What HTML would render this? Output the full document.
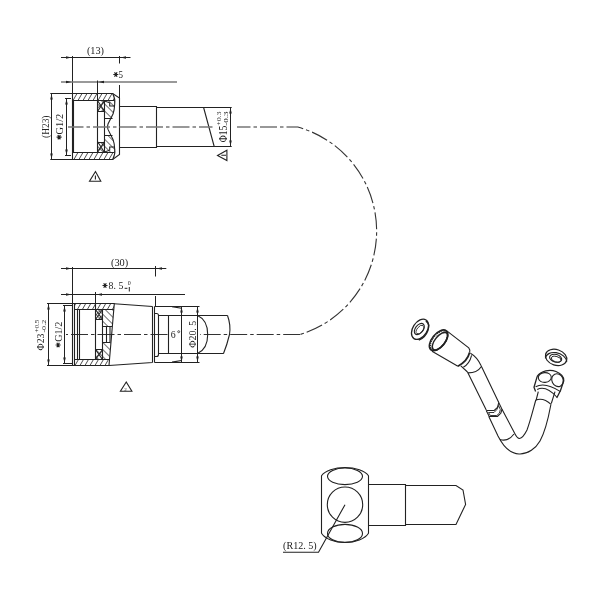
<!DOCTYPE html>
<html><head><meta charset="utf-8"><style>
html,body{margin:0;padding:0;background:#fff;}
svg{display:block;filter:grayscale(1);}
.o{fill:none;stroke:#222;stroke-width:1.1;}
.d{fill:none;stroke:#222;stroke-width:1;}
.g{fill:none;stroke:#777;stroke-width:1.3;}
.c{fill:none;stroke:#333;stroke-width:1.1;stroke-dasharray:17 3 3.5 3;}
.h{fill:none;stroke:#333;stroke-width:0.9;}
text{font-family:"Liberation Serif",serif;fill:#222;}
.ar{fill:#222;stroke:none;}
</style></head><body>
<svg width="600" height="600" viewBox="0 0 600 600">
<defs>
<pattern id="hatch" patternUnits="userSpaceOnUse" width="5" height="10" patternTransform="translate(0.5,0) skewX(-30)">
<line x1="0" y1="-1" x2="0" y2="11" stroke="#111" stroke-width="1.5"/>
</pattern>
<pattern id="hatch2" patternUnits="userSpaceOnUse" width="5" height="5" patternTransform="rotate(-45)">
<line x1="0" y1="0" x2="0" y2="5" stroke="#111" stroke-width="1.2"/>
</pattern>
<pattern id="hatch3" patternUnits="userSpaceOnUse" width="5" height="5" patternTransform="rotate(45)">
<line x1="0" y1="0" x2="0" y2="5" stroke="#111" stroke-width="1.2"/>
</pattern>
<g id="ast" stroke="#222" stroke-width="1.2" fill="#222"><path d="M-2.5,0H2.5 M-1.25,-2.2L1.25,2.2 M-1.25,2.2L1.25,-2.2"/><circle r="1.1" stroke="none"/></g>
</defs>
<rect width="600" height="600" fill="#fff"/>

<!-- ============ UPPER FITTING ============ -->
<g id="upper">
<!-- dimension (13) -->
<path class="d" d="M61,57.5H130.5 M72.5,56V94 M119.5,56V63.5 M119.5,85V99"/>
<path class="ar" d="M71.5,57.5l-5.5,-1.3v2.6z M120.5,57.5l5.5,-1.3v2.6z"/>
<text x="86.9" y="53.8" font-size="10.5" textLength="17.1" lengthAdjust="spacingAndGlyphs">(13)</text>
<!-- *5 -->
<path class="g" d="M61,82H177"/>
<path class="d" d="M97.5,80.5V100"/>
<path class="ar" d="M71.5,82l-5.5,-1.3v2.6z M98.5,82l5.5,-1.3v2.6z"/>
<use href="#ast" x="115.8" y="74.5"/><text x="118.6" y="78.1" font-size="10.8" textLength="4.5" lengthAdjust="spacingAndGlyphs">5</text>
<!-- H23 -->
<path class="d" d="M50.3,93.5H72.5 M50.3,159.5H72.5 M51.5,93.5V159.5"/>
<path class="ar" d="M51.5,94l-1.3,5.5h2.6z M51.5,159l-1.3,-5.5h2.6z"/>
<text transform="translate(48.6,138) rotate(-90)" font-size="9.5" textLength="22.5" lengthAdjust="spacingAndGlyphs">(H23)</text>
<!-- G1/2 -->
<path class="d" d="M65,98.5H71 M65,155.5H71 M66.5,98.5V155.5"/>
<path class="ar" d="M66.5,99l-1.3,5.5h2.6z M66.5,155l-1.3,-5.5h2.6z"/>
<use href="#ast" x="59.1" y="137.2"/><text transform="translate(62.7,134.5) rotate(-90)" font-size="10.5" textLength="20.7" lengthAdjust="spacingAndGlyphs">G1/2</text>

<!-- nut hatched sections -->
<path fill="url(#hatch)" d="M73,93.5H112.7Q113.8,96.5 114.4,100.5H73Z M73,152.5H114.4Q113.8,156.5 112.7,159.5H73Z"/>
<path fill="url(#hatch2)" d="M97.5,100.5H114.4Q115,104 114.7,106Q114.3,112 112.5,118.5H104.5V111.5H97.5Z M97.5,152.5H114.4Q115,149 114.7,147Q114.3,141 112.5,135.5H104.5V142.5H97.5Z"/>
<path fill="url(#hatch3)" d="M97.5,100.5H104.5V111.5H97.5Z M97.5,142.5H104.5V152.5H97.5Z"/>
<!-- nut outline -->
<path class="o" d="M72.5,93.5H112.7L119.5,98V154.5L112.7,159.5H72.5Z" stroke-width="1.1"/>
<path class="o" d="M73.5,100.5V152.5 M73,100.5H114.4 M73,152.5H114.4 M97.5,100.5V152.5 M104.5,100.5V152.5 M97.5,111.5H104.5 M97.5,142.5H104.5 M104.5,118.5H112.5 M104.5,135.5H112.5"/>
<path class="o" d="M112.7,93.5Q115.5,99 114.7,104Q114.5,110 113,114L108,124Q107,126.7 108,129.4L113,139.4Q114.5,143.4 114.7,149.4Q115.5,154.4 112.7,159.5"/>
<path class="o" d="M97.5,100.5L104.5,111.5 M104.5,100.5L97.5,111.5 M97.5,152.5L104.5,141.5 M104.5,152.5L97.5,141.5 M104.5,101L109.7,102.8V106H114.6 M104.5,152L109.7,150.2V147H114.6" stroke-width="1"/>
<!-- body + hose -->
<path class="o" d="M119.5,106.5H156.5V147.5H119.5 M156.5,107.5H231.7 M156.5,146.5H231.7 M203.6,107.5L214.2,146.5"/>
<!-- phi15 dim -->
<path class="d" d="M230.5,107.5V146.5"/>
<path class="ar" d="M230.5,108l-1.3,5.5h2.6z M230.5,146l-1.3,-5.5h2.6z"/>
<text transform="translate(226.5,142.3) rotate(-90)" font-size="12" textLength="16.5" lengthAdjust="spacingAndGlyphs">&#934;15</text>
<text transform="translate(221.1,125.8) rotate(-90)" font-size="6.5" textLength="14.3" lengthAdjust="spacingAndGlyphs">+0.3</text>
<text transform="translate(228.1,125.8) rotate(-90)" font-size="6.5" textLength="14.3" lengthAdjust="spacingAndGlyphs">-0.3</text>
<!-- triangles -->
<path class="o" d="M95.5,171.5L89.5,181.3H100.8Z M95.4,175.5V179.5" stroke-width="1.3"/>
<path class="o" d="M217.5,155.4L226.9,150.2V160.6Z M221.3,155.3H226" stroke-width="1.3"/>
</g>

<!-- ============ CENTERLINE ARC ============ -->
<path class="c" d="M68,127H212.5" stroke-dashoffset="1.5" style="stroke:#777;stroke-width:1.6"/>
<path class="c" d="M237,127H297.8 A108.15,108.15 0 0 1 300.2,334.5" stroke-dashoffset="3.5"/>
<path class="c" d="M300.2,334.5H200" style="stroke-width:1"/>
<path class="c" d="M167.5,334.5H66" style="stroke-width:1"/>

<!-- ============ LOWER FITTING ============ -->
<g id="lower">
<path class="d" d="M61,268.5H166.3 M72.5,267V303 M155.5,266V276.5 M155.5,296V306"/>
<path class="ar" d="M71.5,268.5l-5.5,-1.3v2.6z M156.5,268.5l5.5,-1.3v2.6z"/>
<text x="111" y="265.6" font-size="10.5" textLength="17.25" lengthAdjust="spacingAndGlyphs">(30)</text>
<path class="d" d="M61,294.5H185 M95.5,292V304"/>
<path class="ar" d="M71.5,294.5l-5.5,-1.3v2.6z M96.5,294.5l5.5,-1.3v2.6z"/>
<use href="#ast" x="105" y="285.5"/><text x="108.6" y="289.1" font-size="10.3" textLength="14.7" lengthAdjust="spacingAndGlyphs">8. 5</text>
<text x="127.8" y="284.6" font-size="6">0</text>
<path class="d" d="M124.6,288.3H127.4 M129.3,287V291.5"/>
<!-- phi23 -->
<path class="d" d="M47,303.5H72.5 M47,365.5H72.5 M48.5,303.5V365.5"/>
<path class="ar" d="M48.5,304l-1.3,5.5h2.6z M48.5,365l-1.3,-5.5h2.6z"/>
<text transform="translate(44.4,350.4) rotate(-90)" font-size="10" textLength="16.8" lengthAdjust="spacingAndGlyphs">&#934;23</text>
<text transform="translate(39.3,332.6) rotate(-90)" font-size="6.5" textLength="12.9" lengthAdjust="spacingAndGlyphs">+0.5</text>
<text transform="translate(46.3,332.6) rotate(-90)" font-size="6.5" textLength="12.9" lengthAdjust="spacingAndGlyphs">-0.2</text>
<path class="d" d="M63,305.5H72 M63,363.5H72 M64.5,305.5V363.5"/>
<path class="ar" d="M64.5,306l-1.3,5.5h2.6z M64.5,363l-1.3,-5.5h2.6z"/>
<use href="#ast" x="58.1" y="345"/><text transform="translate(61.8,341.8) rotate(-90)" font-size="10.5" textLength="20.2" lengthAdjust="spacingAndGlyphs">G1/2</text>
<!-- nut -->
<path fill="url(#hatch)" d="M75,303.5H114.3L113.8,309.5H75Z M75,359.5H109.4L109,365.5H75Z"/>
<path fill="url(#hatch2)" d="M95.5,309.5H113.8L113,319.5L112.2,326.5H102.5V319.5H95.5Z M95.5,359.5H109.4L109.9,350L110.6,342.5H102.5V349.5H95.5Z"/>
<path fill="url(#hatch3)" d="M95.5,309.5H102.5V319.5H95.5Z M95.5,349.5H102.5V359.5H95.5Z"/>
<path class="o" d="M72.5,303.5H114.3L109,365.5H72.5Z" stroke-width="1.1"/>
<path class="o" d="M74.5,303.5V365.5 M77.5,309.5V359.5 M79.5,309.5V359.5 M75,309.5H113.8 M75,359.5H109.4 M95.5,303V359.5 M102.5,309.5V359.5 M95.5,319.5H102.5 M95.5,349.5H102.5 M102.5,326.5H112.2 M102.5,342.5H110.6 M106.5,326.5V342.5 M110,326.5V342.5"/>
<path class="o" d="M95.5,309.5L102.5,319.5 M102.5,309.5L95.5,319.5 M95.5,349.5L102.5,359.5 M102.5,349.5L95.5,359.5" stroke-width="1"/>
<!-- taper body -->
<path class="o" d="M114.3,303.8L152.5,306.5 M109,365.5L152.5,362.5 M152.5,306.5V362.5 M154.5,306.5V362.5 M154.5,306.5H199.5 M154.5,362.5H199.5 M172,306.6L181.5,308.2 M172,362.1L181.5,360.5"/>
<path class="o" d="M154.5,313.5H156.5Q158.5,313.5 158.5,315.5V354.5Q158.5,356.5 156.5,356.5H154.5 M158.5,315.5H227.5 M158.5,353.5H223.5 M168.5,315.5V353.5 M197.5,315.5Q207.7,320 207.7,334.5Q207.7,349 197.5,353.5 M227.5,315.5Q231,325 229.5,334.5Q227,345 223.5,353.5"/>
<path class="d" d="M181.5,306.5V362.5 M197.5,306.5V362.5"/>
<path class="ar" d="M181.5,307l-1.3,5.5h2.6z M181.5,362l-1.3,-5.5h2.6z M197.5,307l-1.3,5.5h2.6z M197.5,362l-1.3,-5.5h2.6z"/>
<text x="170.8" y="338" font-size="10.5" textLength="4.9" lengthAdjust="spacingAndGlyphs">6</text><circle cx="178.7" cy="331.7" r="1" fill="none" stroke="#333" stroke-width="0.8"/>
<text transform="translate(195.5,347.8) rotate(-90)" font-size="10.5" textLength="27.1" lengthAdjust="spacingAndGlyphs">&#934;20. 5</text>
<path class="o" d="M126.25,382L120.4,391.25H131.9Z" stroke-width="1.3"/>
<text x="124.3" y="390.5" font-size="5">2</text>
</g>

<!-- ============ 3D HOSE ============ -->
<g id="iso" class="o" stroke-width="1.2">
<!-- washer1 -->
<ellipse cx="420" cy="329.3" rx="11.1" ry="7.2" transform="rotate(-57 420 329.3)" stroke-width="1.3"/>
<path d="M424.5,320.5A11.4,7.5 -52 0 1 417.5,339.5" transform="translate(1.3,0.6)" stroke-width="1.3"/>
<ellipse cx="419.3" cy="329" rx="6.4" ry="3.9" transform="rotate(-52 419.3 329)"/>
<ellipse cx="420" cy="329.6" rx="5" ry="2.8" transform="rotate(-52 420 329.6)" stroke-width="0.8"/>
<!-- nut cylinder -->
<ellipse cx="438.6" cy="340.3" rx="12.2" ry="6.6" transform="rotate(-51 438.6 340.3)" stroke-width="1.6"/>
<ellipse cx="439.9" cy="341.2" rx="10.6" ry="4.9" transform="rotate(-51 439.9 341.2)" stroke-width="1.5"/>
<ellipse cx="438.9" cy="340.6" rx="11.6" ry="5.9" transform="rotate(-51 438.9 340.6)" stroke-width="1.2" stroke-dasharray="1 1"/>
<path d="M446.5,330.6L468.75,347.9Q470.5,350 469.6,352.5 M432,351.2L457.9,366.25"/>
<path d="M469.6,352.5Q467.5,361 457.9,366.25" stroke-width="1.8"/>
<path d="M471.6,355.4Q469.5,364 463.3,367.2"/>
<path d="M470.4,353.3Q477,357 481,365.5 M481.25,366.7Q477,373 467.9,372.9 M460.8,365.8L467.5,372"/>
<!-- hose upper segment -->
<path d="M467.5,372L486.25,410 M481,365.5L498.75,402.5"/>
<!-- coupling -->
<path d="M486.25,410.5L494.2,410.5L497.5,407.5L498.75,402.5L502,409.2L500.8,413.3L497.5,416.5L489.2,416.5L486.25,410.5"/>
<path d="M488.5,412.5L494,412.5L496.8,409.6L498.6,405.5L500.3,409.5L499.5,413L496.8,415.5L490.3,415.5Z" stroke-width="0.9"/>
<!-- hose lower + U bend -->
<path d="M488.8,416.5L498,436C503,446 510,453.5 519,454C528,454.5 536,448 540,441C545,432 548,420 550.8,405"/>
<path d="M502,409.2L514,432Q517,438.5 519.5,438.5Q523,438 527,430C530,422 532.5,412 535.8,400"/>
<path d="M500,439.5Q508,442 514,434"/>
<!-- washer2 -->
<ellipse cx="556.1" cy="357.4" rx="11" ry="7.8" transform="rotate(18 556.1 357.4)" stroke-width="1.2"/>
<path d="M545.4,358.35A11,7.8 18 0 1 566.8,361.65" stroke-width="1.2"/>
<ellipse cx="555.65" cy="358.25" rx="6.2" ry="3.8" transform="rotate(15 555.65 358.25)"/>
<ellipse cx="556.2" cy="359.2" rx="5" ry="2.7" transform="rotate(15 556.2 359.2)" stroke-width="0.9"/>
<!-- hex nut2 -->
<path d="M537.2,376.4C541,370.5 550,369 556,371.5C561,373.5 564,377 563.75,380.75L560.5,390.5L556.7,398 M537.2,376.4L534,387.3L535.6,391.6" stroke-width="1.3"/>
<ellipse cx="544.8" cy="377.5" rx="6.5" ry="4.9" transform="rotate(-5 544.8 377.5)"/>
<ellipse cx="557.5" cy="380.2" rx="5.6" ry="6.6" transform="rotate(-25 557.5 380.2)"/>
<path d="M535.6,386.7Q545,381.5 560.5,391.6 M537.2,389.4Q546,385 556.7,397"/>
<path d="M538.3,391.6L536.1,400.25 M555,391.6L551.3,403.5 M535.6,400.25Q543,397 551.3,404.6"/>
</g>

<!-- ============ BOTTOM ISO FITTING ============ -->
<g id="bottom" class="o" stroke-width="1">
<path d="M321.5,475.8A25,12.6 0 0 1 368.5,475.8V533.3A25,14 0 0 1 321.5,533.3Z"/>
<ellipse cx="345" cy="476.3" rx="17.5" ry="8.3"/>
<circle cx="345" cy="504.7" r="17.7"/>
<ellipse cx="345" cy="533.4" rx="17.5" ry="9"/>
<path d="M368.5,484.5H405.5V525.5H368.5 M405.5,485.5H456L463,490L465.6,504.4L456,524.5H405.5"/>
<path d="M345,504.7L318.5,552.2H283"/>
</g>
<text x="283.1" y="549" font-size="10" textLength="33.6" lengthAdjust="spacingAndGlyphs">(R12. 5)</text>
</svg>
</body></html>
